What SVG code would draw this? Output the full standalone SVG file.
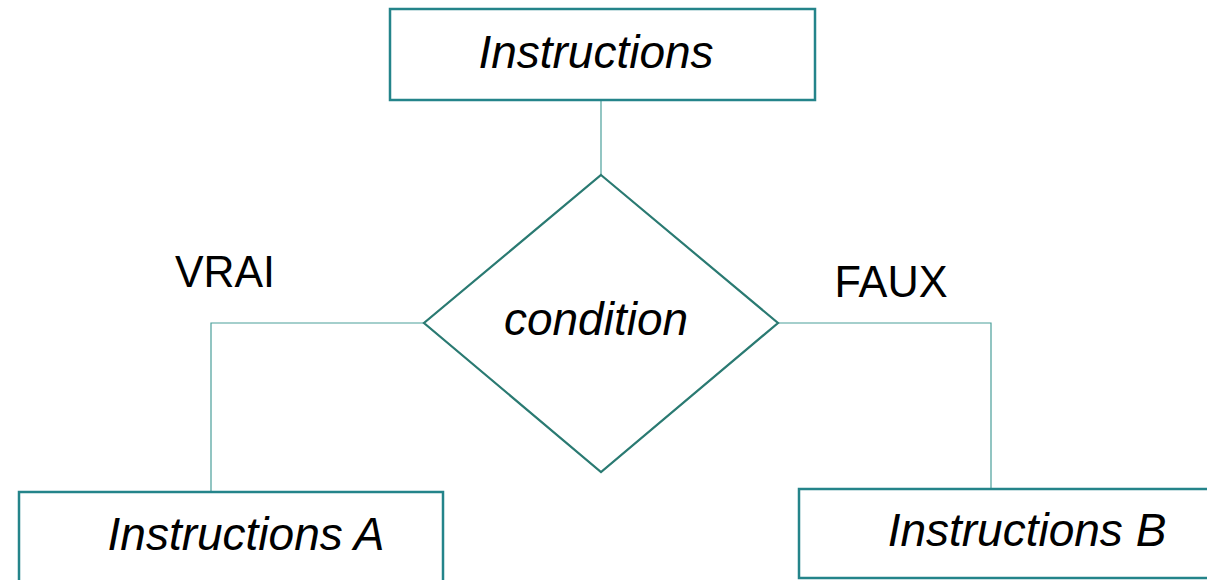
<svg xmlns="http://www.w3.org/2000/svg" width="1207" height="580" viewBox="0 0 1207 580">
  <style>
    .box { fill: #ffffff; stroke: #24848a; stroke-width: 2.5; }
    .dia { fill: #ffffff; stroke: #2a7a72; stroke-width: 2.2; }
    .conn { fill: none; stroke: #4a9f9a; stroke-width: 1.2; }
    .it { font-family: "Liberation Sans", Arial, sans-serif; font-style: italic; font-size: 46px; fill: #000000; }
    .lbl { font-family: "Liberation Sans", Arial, sans-serif; font-size: 44px; fill: #000000; }
  </style>
  <rect width="1207" height="580" fill="#ffffff"/>
  <g id="connectors">
    <line class="conn" x1="601" y1="100" x2="601" y2="175"/>
    <polyline class="conn" points="424,323 211,323 211,492"/>
    <polyline class="conn" points="778,323 991,323 991,489"/>
  </g>
  <g id="node-instructions">
    <rect class="box" x="390" y="9" width="425" height="91"/>
    <text class="it" x="596" y="68" text-anchor="middle">Instructions</text>
  </g>
  <g id="node-condition">
    <polygon class="dia" points="601,175 778,323 601,472 424,323"/>
    <text class="it" x="596" y="335" text-anchor="middle">condition</text>
  </g>
  <g id="node-instructions-a">
    <rect class="box" x="19" y="492" width="424" height="100"/>
    <text class="it" x="246" y="550" text-anchor="middle">Instructions A</text>
  </g>
  <g id="node-instructions-b">
    <rect class="box" x="799" y="489" width="420" height="89"/>
    <text class="it" x="1027" y="546" text-anchor="middle">Instructions B</text>
  </g>
  <g id="labels">
    <text class="lbl" x="225" y="287" text-anchor="middle" textLength="100" lengthAdjust="spacingAndGlyphs">VRAI</text>
    <text class="lbl" x="891" y="297" text-anchor="middle" textLength="113" lengthAdjust="spacingAndGlyphs">FAUX</text>
  </g>
</svg>
